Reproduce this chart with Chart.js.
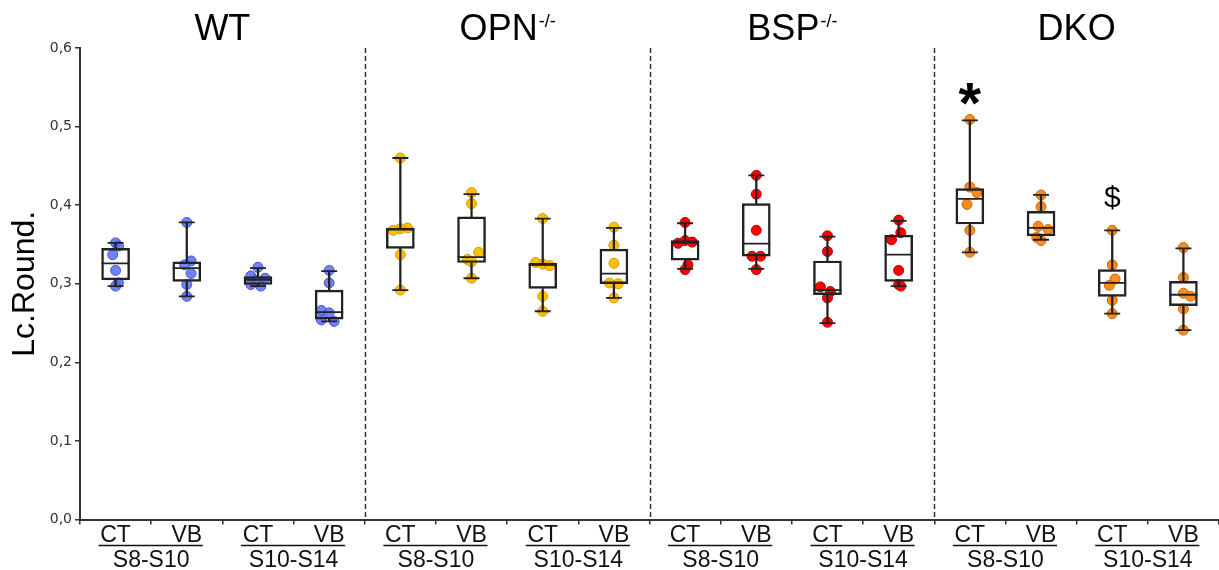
<!DOCTYPE html>
<html>
<head>
<meta charset="utf-8">
<script src="https://cdn.jsdelivr.net/npm/chart.js@4/dist/chart.umd.min.js"></script>
<style>
  html, body { margin: 0; padding: 0; background: #fff; overflow: hidden; }
  #wrap { position: relative; width: 1219px; height: 570px; }
</style>
</head>
<body>
<div id="wrap"><canvas id="chart"></canvas></div>
<script>
// ---- data ----
const genotypes = ['WT', 'OPN', 'BSP', 'DKO'];
const genotypeSup = ['', '-/-', '-/-', ''];
const stages = ['S8-S10', 'S10-S14'];
const conditions = ['CT', 'VB'];
const yTicks = [0, 0.1, 0.2, 0.3, 0.4, 0.5, 0.6];

// box stats, one entry per box (WT x4, OPN x4, BSP x4, DKO x4)
const boxMin = [0.297, 0.284, 0.297, 0.252, 0.292, 0.307, 0.265, 0.282, 0.319, 0.319, 0.250, 0.297, 0.340, 0.356, 0.262, 0.241];
const boxQ1  = [0.305, 0.303, 0.299, 0.255, 0.345, 0.327, 0.294, 0.300, 0.330, 0.335, 0.286, 0.303, 0.376, 0.361, 0.284, 0.272];
const boxMed = [0.326, 0.320, 0.305, 0.264, 0.369, 0.334, 0.324, 0.313, 0.352, 0.351, 0.292, 0.337, 0.408, 0.371, 0.301, 0.286];
const boxQ3  = [0.345, 0.328, 0.309, 0.292, 0.371, 0.385, 0.326, 0.344, 0.355, 0.402, 0.329, 0.362, 0.421, 0.392, 0.318, 0.303];
const boxMax = [0.352, 0.378, 0.320, 0.316, 0.460, 0.414, 0.383, 0.371, 0.377, 0.438, 0.360, 0.380, 0.508, 0.413, 0.368, 0.345];

// individual animals
const wtPoints = [
  [0.352, 0.348, 0.337, 0.317, 0.301, 0.297],
  [0.378, 0.329, 0.324, 0.313, 0.299, 0.284],
  [0.321, 0.310, 0.307, 0.304, 0.299, 0.297],
  [0.317, 0.301, 0.266, 0.263, 0.254, 0.252]
];
const opnPoints = [
  [0.460, 0.371, 0.370, 0.368, 0.337, 0.292],
  [0.416, 0.402, 0.340, 0.331, 0.328, 0.307],
  [0.383, 0.327, 0.325, 0.323, 0.284, 0.265],
  [0.372, 0.349, 0.326, 0.301, 0.300, 0.282]
];
const bspPoints = [
  [0.378, 0.355, 0.353, 0.3515, 0.324, 0.318],
  [0.438, 0.414, 0.368, 0.335, 0.335, 0.318],
  [0.361, 0.341, 0.296, 0.290, 0.282, 0.251],
  [0.381, 0.365, 0.356, 0.317, 0.299, 0.297]
];
const dkoPoints = [
  [0.509, 0.423, 0.416, 0.401, 0.368, 0.340],
  [0.413, 0.398, 0.373, 0.369, 0.359, 0.355],
  [0.368, 0.324, 0.306, 0.298, 0.279, 0.262],
  [0.346, 0.308, 0.288, 0.284, 0.268, 0.241]
];
// horizontal jitter of each dot, in box widths (category units)
const wtJitter  = [[0, 0.04, -0.04, 0, 0.04, 0], [0, 0.06, -0.03, 0.06, 0, 0], [0, -0.1, 0.1, -0.04, -0.1, 0.04], [0, 0, -0.11, 0, -0.11, 0.07]];
const opnJitter = [[0, 0.1, 0, -0.1, 0, 0], [0, 0, 0.1, -0.06, 0, 0], [0, -0.1, 0, 0.1, 0, 0], [0, 0, 0, -0.06, 0.06, 0]];
const bspJitter = [[0, 0, 0.1, -0.1, 0.04, 0], [0, 0, 0, -0.06, 0.06, 0], [0, 0, -0.1, 0.04, 0, 0], [0, 0.03, -0.1, 0, 0, 0.03]];
const dkoJitter = [[0, 0, 0.1, -0.04, 0, 0], [0, 0, -0.04, 0.1, -0.06, 0], [0, 0, 0.04, -0.04, 0, 0], [0, 0, 0, 0.1, 0, 0]];

// significance marks: box index, value where the mark sits
const marks = [
  { box: 12, y: 0.541, text: '*' },
  { box: 14, y: 0.410, text: '$' }
];

// ---- styling ----
const INK = '#222';
const FONT = "'Liberation Sans', Arial, sans-serif";
const groupColors = [
  { fill: 'rgba(88,108,242,0.85)', edge: '#4657d8' },
  { fill: '#FFC000', edge: '#D69B00' },
  { fill: '#FF0000', edge: '#C00000' },
  { fill: '#FF8C1A', edge: '#C46A10' }
];

const nBox = boxMin.length;
const boxIdx = Array.from({ length: nBox }, (_, i) => i);
const labels = boxIdx.map(i => conditions[i % 2]);

const pointSets = [wtPoints, opnPoints, bspPoints, dkoPoints];
const jitterSets = [wtJitter, opnJitter, bspJitter, dkoJitter];

const pointDatasets = genotypes.map((g, gi) => {
  const data = [];
  pointSets[gi].forEach((vals, b) => {
    vals.forEach((v, k) => data.push({ x: gi * 4 + b + jitterSets[gi][b][k], y: v }));
  });
  return {
    type: 'scatter', label: g, data, xAxisID: 'xp', order: 5,
    backgroundColor: groupColors[gi].fill, borderColor: groupColors[gi].edge,
    borderWidth: 1, pointRadius: 5
  };
});

const datasets = [
  // boxes (outline only, lines on top of the dots)
  { type: 'bar', label: 'box', data: boxIdx.map(i => [boxQ1[i], boxQ3[i]]), grouped: false,
    barThickness: 28, backgroundColor: 'rgba(255,255,255,0)', borderColor: INK, borderWidth: 1.8,
    borderSkipped: false, order: 2 },
  { type: 'bar', label: 'lowWhisker', data: boxIdx.map(i => [boxMin[i], boxQ1[i]]), grouped: false,
    barThickness: 1.6, backgroundColor: INK, borderWidth: 0, order: 2 },
  { type: 'bar', label: 'highWhisker', data: boxIdx.map(i => [boxQ3[i], boxMax[i]]), grouped: false,
    barThickness: 1.6, backgroundColor: INK, borderWidth: 0, order: 2 },
  { type: 'scatter', label: 'caps', xAxisID: 'xp', order: 1,
    data: boxIdx.flatMap(i => [{ x: i, y: boxMin[i] }, { x: i, y: boxMax[i] }]),
    pointStyle: 'line', pointRadius: 8, borderColor: INK, borderWidth: 1.8 },
  { type: 'scatter', label: 'median', xAxisID: 'xp', order: 1,
    data: boxIdx.map(i => ({ x: i, y: boxMed[i] })),
    pointStyle: 'line', pointRadius: 14, borderColor: INK, borderWidth: 1.8 },
  ...pointDatasets
];

// titles, separators, stage labels and marks
const extras = {
  id: 'extras',
  afterDraw(chart) {
    const { ctx, chartArea } = chart;
    const xp = chart.scales.xp, y = chart.scales.y;
    ctx.save();

    // dashed separators between genotypes
    ctx.strokeStyle = '#333';
    ctx.lineWidth = 1.5;
    ctx.setLineDash([5, 3]);
    for (let g = 1; g < genotypes.length; g++) {
      const x = Math.round(xp.getPixelForValue(g * 4 - 0.5)) + 0.5;
      ctx.beginPath();
      ctx.moveTo(x, chartArea.top);
      ctx.lineTo(x, chartArea.bottom);
      ctx.stroke();
    }
    ctx.setLineDash([]);

    // genotype titles with superscript
    ctx.fillStyle = '#000';
    ctx.textBaseline = 'alphabetic';
    ctx.textAlign = 'left';
    genotypes.forEach((g, gi) => {
      const cx = xp.getPixelForValue(gi * 4 + 1.5);
      ctx.font = '36px ' + FONT;
      const w1 = ctx.measureText(g).width;
      ctx.font = '18px ' + FONT;
      const w2 = genotypeSup[gi] ? ctx.measureText(genotypeSup[gi]).width : 0;
      const x0 = cx - (w1 + w2) / 2;
      ctx.font = '36px ' + FONT;
      ctx.fillText(g, x0, 40);
      if (w2) {
        ctx.font = '18px ' + FONT;
        ctx.fillText(genotypeSup[gi], x0 + w1 + 1, 27);
      }
    });

    // stage underline + label under each CT/VB pair
    ctx.strokeStyle = '#111';
    ctx.fillStyle = '#111';
    ctx.lineWidth = 1.5;
    ctx.font = '23px ' + FONT;
    ctx.textAlign = 'center';
    for (let p = 0; p < nBox / 2; p++) {
      const xa = xp.getPixelForValue(2 * p), xb = xp.getPixelForValue(2 * p + 1);
      ctx.beginPath();
      ctx.moveTo(xa - 17, 545.5);
      ctx.lineTo(xb + 16, 545.5);
      ctx.stroke();
      ctx.fillText(stages[p % 2], (xa + xb) / 2, 567);
    }

    // significance marks, centred on their value
    marks.forEach(m => {
      ctx.font = (m.text === '*' ? 'bold 58px ' : '30px ') + FONT;
      const mt = ctx.measureText(m.text);
      const cy = y.getPixelForValue(m.y);
      const base = cy + (mt.actualBoundingBoxAscent - mt.actualBoundingBoxDescent) / 2;
      ctx.fillStyle = '#000';
      ctx.fillText(m.text, xp.getPixelForValue(m.box), base);
    });
    ctx.restore();
  }
};

new Chart(document.getElementById('chart'), {
  type: 'bar',
  data: { labels, datasets },
  plugins: [extras],
  options: {
    responsive: true,
    maintainAspectRatio: false,
    animation: false,
    layout: { autoPadding: false, padding: { top: 48, right: 0, left: 0, bottom: 0 } },
    plugins: { legend: { display: false }, tooltip: { enabled: false } },
    scales: {
      x: {
        type: 'category',
        offset: true,
        grid: { offset: true, drawOnChartArea: false, drawTicks: true, tickLength: 5, color: '#333', lineWidth: 1.5 },
        border: { display: true, color: '#333', width: 2 },
        ticks: { color: '#111', font: { family: FONT, size: 23 }, padding: -3, maxRotation: 0, autoSkip: false },
        afterFit: s => { s.height = 50.5; s.paddingLeft = 0; s.paddingRight = 0; }
      },
      xp: {
        type: 'linear', display: false, offset: false, grid: { offset: false },
        min: -0.5, max: nBox - 0.5
      },
      y: {
        min: 0, max: 0.6,
        afterBuildTicks: s => { s.ticks = yTicks.map(v => ({ value: v })); },
        ticks: {
          color: '#333', padding: 3,
          font: { family: "'DejaVu Sans', Verdana, sans-serif", size: 14 },
          callback: v => v.toFixed(1).replace('.', ',')
        },
        grid: { drawOnChartArea: false, drawTicks: true, tickLength: 5, color: '#333', lineWidth: 1.5 },
        border: { display: true, color: '#333', width: 2 },
        title: { display: true, text: 'Lc.Round.', color: '#000', font: { family: FONT, size: 32 }, padding: { top: 6, bottom: 0 } },
        afterFit: s => { s.width = 80; }
      }
    }
  }
});
</script>
</body>
</html>
